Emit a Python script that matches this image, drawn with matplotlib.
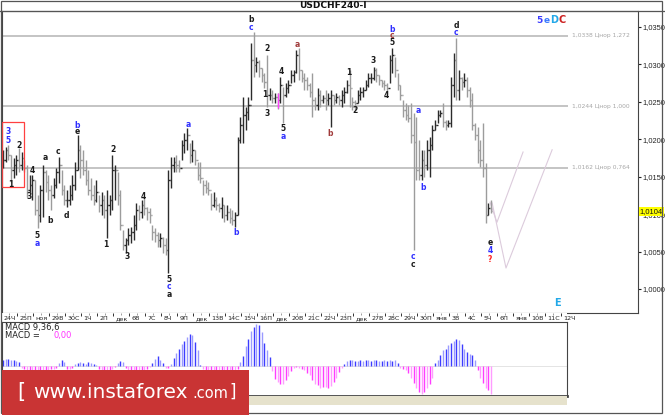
import numpy as np
import matplotlib.pyplot as plt
from matplotlib.patches import Rectangle
from matplotlib.ticker import FuncFormatter

W, H = 665, 415

# 4H bars, prices x 10000
high = [10186, 10190, 10192, 10179, 10175, 10179,
        10189, 10183, 10172, 10166, 10152, 10152,
        10146, 10126, 10139, 10166, 10159, 10152,
        10139, 10148, 10162, 10176, 10159, 10139,
        10132, 10139, 10152, 10170, 10206, 10192,
        10186, 10172, 10159, 10148, 10139, 10146,
        10126, 10130, 10126, 10132, 10126, 10179,
        10166, 10156, 10132, 10079, 10068, 10081,
        10083, 10099, 10115, 10112, 10119, 10122,
        10110, 10108, 10085, 10081, 10076, 10075,
        10069, 10068, 10159, 10176, 10176, 10179,
        10172, 10199, 10208, 10215, 10195, 10199,
        10186, 10170, 10170, 10146, 10146, 10143,
        10128, 10130, 10123, 10115, 10123, 10112,
        10112, 10108, 10106, 10103, 10203, 10230,
        10256, 10243, 10256, 10329, 10343, 10310,
        10306, 10295, 10289, 10313, 10268, 10266,
        10262, 10262, 10283, 10270, 10275, 10279,
        10293, 10293, 10319, 10322, 10293, 10289,
        10283, 10275, 10289, 10256, 10268, 10266,
        10259, 10266, 10262, 10266, 10259, 10262,
        10259, 10266, 10270, 10279, 10293, 10256,
        10252, 10266, 10270, 10270, 10279, 10289,
        10289, 10297, 10295, 10286, 10279, 10279,
        10275, 10313, 10322, 10310, 10289, 10273,
        10252, 10248, 10246, 10248, 10235, 10230,
        10199, 10186, 10186, 10199, 10203, 10219,
        10226, 10239, 10239, 10248, 10226, 10226,
        10283, 10315, 10335, 10293, 10283, 10289,
        10283, 10270, 10262, 10222, 10216, 10199,
        10222, 10168, 10115, 10119]
low = [10162, 10170, 10172, 10143, 10148, 10152,
       10156, 10159, 10156, 10123, 10130, 10119,
       10099, 10081, 10089, 10096, 10130, 10119,
       10106, 10122, 10135, 10142, 10126, 10112,
       10110, 10112, 10119, 10132, 10159, 10148,
       10152, 10139, 10126, 10119, 10112, 10116,
       10103, 10099, 10095, 10068, 10099, 10106,
       10119, 10112, 10079, 10052, 10048, 10059,
       10061, 10065, 10079, 10092, 10095, 10099,
       10092, 10088, 10065, 10063, 10056, 10056,
       10048, 10045, 10021, 10135, 10156, 10156,
       10156, 10172, 10182, 10186, 10168, 10170,
       10166, 10146, 10142, 10126, 10128, 10126,
       10106, 10110, 10106, 10103, 10095, 10089,
       10092, 10088, 10085, 10083, 10099, 10195,
       10195, 10212, 10226, 10252, 10283, 10290,
       10283, 10277, 10268, 10243, 10252, 10248,
       10248, 10240, 10248, 10222, 10256, 10262,
       10275, 10277, 10289, 10279, 10277, 10266,
       10266, 10256, 10230, 10239, 10239, 10243,
       10248, 10239, 10246, 10216, 10246, 10248,
       10246, 10243, 10248, 10262, 10243, 10239,
       10239, 10248, 10252, 10256, 10266, 10270,
       10275, 10279, 10277, 10273, 10270, 10266,
       10259, 10275, 10289, 10283, 10266, 10252,
       10230, 10226, 10223, 10195, 10052, 10146,
       10146, 10146, 10150, 10159, 10150, 10186,
       10212, 10222, 10230, 10216, 10212, 10216,
       10216, 10256, 10252, 10252, 10266, 10270,
       10256, 10243, 10212, 10199, 10168, 10163,
       10150, 10088, 10099, 10101]
close = [10172, 10186, 10179, 10159, 10166, 10172,
         10166, 10175, 10162, 10132, 10139, 10146,
         10106, 10099, 10132, 10156, 10143, 10132,
         10126, 10139, 10156, 10166, 10132, 10119,
         10119, 10126, 10139, 10159, 10186, 10172,
         10159, 10146, 10132, 10126, 10119, 10130,
         10112, 10119, 10106, 10112, 10119, 10159,
         10159, 10126, 10085, 10059, 10065, 10072,
         10076, 10085, 10106, 10103, 10112, 10108,
         10103, 10099, 10076, 10072, 10065, 10068,
         10059, 10052, 10146, 10166, 10170, 10166,
         10162, 10192, 10199, 10206, 10179, 10186,
         10172, 10152, 10148, 10139, 10135, 10132,
         10112, 10119, 10112, 10108, 10112, 10099,
         10103, 10095, 10092, 10099, 10199, 10219,
         10232, 10236, 10246, 10306, 10299, 10303,
         10295, 10286, 10277, 10259, 10259, 10255,
         10256, 10252, 10273, 10259, 10268, 10273,
         10286, 10290, 10313, 10293, 10282, 10279,
         10273, 10263, 10252, 10246, 10259, 10252,
         10255, 10252, 10255, 10259, 10252, 10256,
         10252, 10259, 10263, 10273, 10268, 10250,
         10248, 10259, 10263, 10266, 10273, 10282,
         10282, 10293, 10286, 10279, 10275, 10273,
         10268, 10306, 10313, 10293, 10273, 10259,
         10239, 10232, 10228, 10206, 10196, 10159,
         10152, 10172, 10166, 10186, 10192, 10212,
         10219, 10232, 10235, 10223, 10219, 10222,
         10273, 10306, 10266, 10282, 10277, 10279,
         10266, 10252, 10219, 10206, 10186, 10172,
         10162, 10099, 10108, 10104]

# MACD histogram (9,36,6), points
macd = [6, 7, 7, 6, 6, 5,
        4, -2, -3, -4, -4, -5,
        -5, -4, -4, -5, -4, -4,
        -3, -3, -2, 3, 6, 4,
        -3, -3, -2, 2, 3, 4,
        3, 2, 4, 3, 2, 1,
        -3, -4, -5, -5, -4, -3,
        -1, 3, 5, 4, -2, -4,
        -4, -5, -4, -4, -5, -4,
        -3, -1, 3, 7, 10, 6,
        3, -2, -2, 2, 8, 13,
        17, 22, 25, 29, 32, 31,
        24, 16, 1, -3, -5, -5,
        -5, -5, -4, -5, -5, -4,
        -5, -5, -4, -5, -3, 4,
        10, 20, 27, 35, 39, 42,
        41, 34, 23, 16, 9, -5,
        -13, -16, -18, -18, -14, -10,
        -5, -2, -1, -2, -3, -4,
        -7, -9, -14, -18, -19, -22,
        -21, -21, -22, -20, -16, -12,
        -6, -2, 2, 5, 6, 6,
        5, 5, 6, 5, 6, 6,
        5, 6, 6, 5, 5, 6,
        5, 6, 5, 6, 3, -2,
        -3, -4, -7, -12, -17, -22,
        -26, -28, -26, -22, -18, -12,
        3, 6, 11, 16, 17, 21,
        23, 25, 27, 26, 22, 17,
        14, 12, 11, 6, -4, -12,
        -17, -22, -24, -28]

days = ["24Ч", "25П", "ноя", "29В", "30С", "1Ч", "2П", "дек", "6В", "7С", "8Ч", "9П",
        "дек", "13В", "14С", "15Ч", "16П", "дек", "20В", "21С", "22Ч", "23П", "дек",
        "27В", "28С", "29Ч", "30П", "янв", "3В", "4С", "5Ч", "6П", "янв", "10В", "11С", "12Ч"]
bars_per_day = 6

price_ticks = [1.0000, 1.0050, 1.0100, 1.0150, 1.0200, 1.0250, 1.0300, 1.0350]
fib_levels = [1.0338, 1.0244, 1.0162]
fib_ratios = ["1,272", "1,000", "0,764"]
last_price = 1.0104

# projected paths (bar index, price)
proj1_x = [182.6, 185.2, 195.0]
proj1_y = [1.0116, 1.0089, 1.0183]
proj2_x = [183.4, 188.6, 205.9]
proj2_y = [1.0115, 1.0028, 1.0186]

BLK, BLU, BRN, RED = "#1a1a1a", "#2f2fff", "#a03a3a", "#ff2020"
waves = [
    (1.9, 1.0210, "3", BLU), (1.9, 1.0198, "5", BLU), (6.0, 1.0192, "2", BLK),
    (3.0, 1.0139, "1", BLK), (10.9, 1.0158, "4", BLK), (9.7, 1.0123, "3", BLK),
    (12.7, 1.0072, "5", BLK), (12.7, 1.0061, "a", BLU), (15.7, 1.0176, "a", BLK),
    (17.6, 1.0091, "b", BLK), (20.6, 1.0184, "c", BLK), (23.6, 1.0098, "d", BLK),
    (27.7, 1.0219, "b", BLU), (27.7, 1.0210, "e", BLK), (38.6, 1.0059, "1", BLK),
    (41.2, 1.0187, "2", BLK), (46.5, 1.0043, "3", BLK), (52.5, 1.0123, "4", BLK),
    (62.2, 1.0013, "5", BLK), (62.2, 1.0003, "c", BLU), (62.2, 0.9993, "a", BLK),
    (69.4, 1.0220, "a", BLU), (87.4, 1.0075, "b", BLU),
    (93.0, 1.0360, "b", BLK), (93.0, 1.0350, "c", BLU),
    (99.0, 1.0321, "2", BLK), (98.2, 1.0260, "1", BLK), (99.0, 1.0234, "3", BLK),
    (104.2, 1.0290, "4", BLK), (105.0, 1.0215, "5", BLK), (105.0, 1.0204, "a", BLU),
    (110.2, 1.0327, "a", BRN), (122.6, 1.0208, "b", BRN),
    (129.7, 1.0289, "1", BLK), (132.0, 1.0239, "2", BLK), (138.7, 1.0305, "3", BLK),
    (143.6, 1.0259, "4", BLK), (145.9, 1.0347, "b", BLU), (145.9, 1.0338, "c", BRN),
    (145.9, 1.0329, "5", BLK), (155.6, 1.0239, "a", BLU), (157.5, 1.0135, "b", BLU),
    (153.7, 1.0044, "c", BLU), (153.7, 1.0033, "c", BLK),
    (169.9, 1.0352, "d", BLK), (169.9, 1.0343, "c", BLU),
    (182.6, 1.0062, "e", BLK), (182.6, 1.0051, "4", BLU), (182.6, 1.0040, "?", RED),
]


def box(x0, y0, x1, y1):
    return [x0 / W, 1 - y1 / H, (x1 - x0) / W, (y1 - y0) / H]


def idx(xp):
    return (xp - 3) / 2.667


def fmt(v):
    return f"{v:.4f}".replace(".", ",")


fig = plt.figure(figsize=(W / 100, H / 100), dpi=100)
fig.patch.set_facecolor("white")

hi = np.array(high) / 1e4
lo = np.array(low) / 1e4
cl = np.array(close) / 1e4
op = np.concatenate([[cl[0]], cl[:-1]])
n = len(cl)
xi = np.arange(n)

# ---- main price panel
ax = fig.add_axes(box(2, 11, 638, 313))
ax.set_xlim(idx(2), idx(638))
ax.set_ylim(0.99679, 1.03714)
ax.set_xticks([])
ax.yaxis.tick_right()
ax.set_yticks(price_ticks)
ax.yaxis.set_major_formatter(FuncFormatter(lambda v, p: fmt(v)))
ax.tick_params(axis="y", labelsize=5.4, length=2, pad=1, colors="#222222")
for lab in ax.get_yticklabels():
    lab.set_family("Liberation Sans")
for s in ax.spines.values():
    s.set_color("#444444")
    s.set_linewidth(0.8)

for lvl, r in zip(fib_levels, fib_ratios):
    ax.hlines(lvl, idx(2), idx(568), color="#c4c4c4", lw=1.4, zorder=1)
    ax.text(idx(572), lvl, fmt(lvl) + " Цнор " + r,
            fontsize=4.3, color="#a6a6a6", va="center", ha="left")

up = cl >= op
col = np.where(up, "#2b2b2b", "#9c9c9c")
ax.vlines(xi, lo, hi, colors=col, lw=1.0, zorder=3)
ax.hlines(cl, xi, xi + 0.5, colors=col, lw=1.0, zorder=3)
ax.hlines(op, xi - 0.5, xi, colors=col, lw=1.0, zorder=3)
ax.vlines(103, 1.0242, 1.0262, colors="#ff40ff", lw=1.0, zorder=4)

ax.add_patch(Rectangle((idx(2), 1.0136), idx(24) - idx(2), 1.0223 - 1.0136,
                       fill=False, ec="#ff4040", lw=0.9, zorder=5))

ax.plot(proj1_x, proj1_y, color="#dccbdc", lw=0.8, zorder=2)
ax.plot(proj2_x, proj2_y, color="#dccbdc", lw=0.8, zorder=2)

for x, y, t, c in waves:
    ax.text(x, y, t, color=c, fontsize=5.5, fontweight="bold", ha="center", va="center", zorder=6)

ax.text(201.3, 1.0359, "5", color="#3a3aff", fontsize=6.5, fontweight="bold", ha="center", va="center")
ax.text(204.0, 1.0359, "e", color="#3a7aff", fontsize=6.5, fontweight="bold", ha="center", va="center")
ax.text(206.6, 1.0359, "D", color="#22a8e8", fontsize=7, fontweight="bold", ha="center", va="center")
ax.text(209.8, 1.0359, "C", color="#cc2020", fontsize=7, fontweight="bold", ha="center", va="center")
ax.text(idx(557), 0.9981, "E", color="#22a8e8", fontsize=7, fontweight="bold", ha="center", va="center")

ax.text(1.003, last_price, fmt(last_price), transform=ax.get_yaxis_transform(),
        fontsize=5.4, family="Liberation Sans", color="#111111", va="center", ha="left",
        bbox=dict(fc="#ffff00", ec="none", pad=0.8), zorder=7)

# ---- date strip
axd = fig.add_axes(box(2, 313, 567, 322))
axd.set_xlim(idx(2), idx(567))
axd.set_ylim(0, 1)
axd.set_xticks([])
axd.set_yticks([])
for s in axd.spines.values():
    s.set_visible(False)
for k, d in enumerate(days):
    x0 = k * bars_per_day - 0.6
    axd.vlines(x0, 0.65, 1.0, color="#333333", lw=0.7)
    axd.vlines(x0 + 3, 0.8, 1.0, color="#777777", lw=0.5)
    axd.text(x0 + 0.7, 0.38, d, fontsize=4.6, color="#222222", ha="left", va="center")

# ---- MACD panel
axm = fig.add_axes(box(2, 322, 567, 396))
axm.set_xlim(idx(2), idx(567))
axm.set_ylim(-30, 44)
axm.set_xticks([])
axm.set_yticks([])
for s in axm.spines.values():
    s.set_color("#444444")
    s.set_linewidth(0.8)
axm.spines["bottom"].set_linewidth(2.0)
mv = np.array(macd)
mx = np.arange(len(mv))
even = mx % 2 == 0
mcol = np.where(mv >= 0, np.where(even, "#3c3cff", "#9a9aff"),
                np.where(even, "#ff3cff", "#ff9cff"))
axm.vlines(mx, 0, mv, colors=mcol, lw=1.0)
axm.axhline(0, color="#d0d0d0", lw=0.4, zorder=0)
axm.text(0.006, 0.93, "MACD 9,36,6", transform=axm.transAxes, fontsize=6, color="#222222", va="center")
axm.text(0.006, 0.82, "MACD =", transform=axm.transAxes, fontsize=6, color="#222222", va="center")
axm.text(0.092, 0.82, "0,00", transform=axm.transAxes, fontsize=6, color="#ff33ff", va="center")

fig.patches.append(Rectangle((2 / W, 1 - 405 / H), 565 / W, 9 / H, transform=fig.transFigure,
                             fc="#e6e2cc", ec="none"))

# ---- frame, title, watermark
fig.add_artist(plt.Line2D([0, 1], [1 - 11.5 / H] * 2, color="#555555", lw=0.9))
fig.add_artist(Rectangle((1 / W, 1 - 413 / H), 661 / W, 412 / H, transform=fig.transFigure,
                         fill=False, ec="#555555", lw=0.9))
fig.text(333 / W, 1 - 5.5 / H, "USDCHF240-I", fontsize=6.5, fontweight="bold",
         ha="center", va="center", color="#111111")

fig.patches.append(Rectangle((2 / W, 0), 247 / W, 45 / H, transform=fig.transFigure,
                             fc="#c93434", ec="none", zorder=10))
fig.text(17 / W, 1 - 392 / H, "[", fontsize=15, color="white", ha="left", va="center", zorder=11)
fig.text(33 / W, 1 - 392 / H, "www.instaforex", fontsize=14.5, color="white", ha="left", va="center", zorder=11)
fig.text(192 / W, 1 - 393 / H, ".com", fontsize=10.5, color="white", ha="left", va="center", zorder=11)
fig.text(229 / W, 1 - 392 / H, "]", fontsize=12, color="white", ha="left", va="center", zorder=11)

fig.savefig("out.png", dpi=100)
